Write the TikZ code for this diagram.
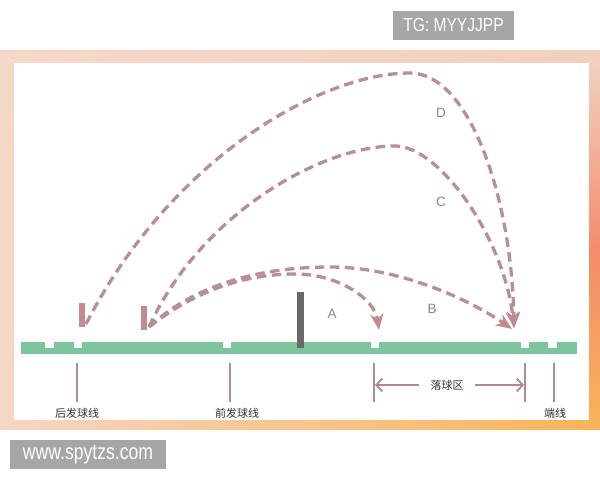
\documentclass[tikz,border=0pt]{standalone}
\usepackage{fontspec}
\setmainfont{Liberation Sans}
\newfontfamily\cjk{Noto Sans CJK SC}
\usetikzlibrary{arrows.meta,shadings}
\definecolor{traj}{HTML}{B59094}
\definecolor{tip}{HTML}{C08A8E}
\definecolor{player}{HTML}{C48A8C}
\definecolor{mark}{HTML}{B08A8E}
\definecolor{courtg}{HTML}{7DC59C}
\definecolor{netc}{HTML}{686868}
\definecolor{lbl}{HTML}{8A8A8A}
\definecolor{boxg}{HTML}{A6A6A6}
\definecolor{fUL}{HTML}{F6D8C8}
\definecolor{fUR}{HTML}{F2D0C0}
\definecolor{fLL}{HTML}{F6D6C4}
\definecolor{fLR}{HTML}{F9B25A}
\definecolor{fRM}{HTML}{F38C6C}
\definecolor{fRB}{HTML}{F9B45A}
\tikzset{
  traj/.style={draw=traj, line width=3.3pt, dash pattern=on 9.5pt off 5.5pt,
    -{Stealth[length=16pt,width=13pt,inset=5pt,color=tip]}},
  playerbar/.style={fill=player, inner sep=0pt, minimum width=6pt, minimum height=24pt},
  notch/.style={fill=white, inner sep=0pt, minimum width=8.5pt, minimum height=6pt, anchor=north},
  tick/.style={draw=mark, line width=2pt},
  cn/.style={font=\cjk\fontsize{11}{13}\selectfont, text=black!80, inner sep=0pt},
  letter/.style={font=\fontsize{13.5}{15}\selectfont, text=lbl, inner sep=0pt},
  graybox/.style={fill=boxg, text=white, inner sep=0pt},
  zonearrow/.style={draw=mark, line width=1.8pt, -{Straight Barb[length=6pt,width=13pt]}}
}
\begin{document}
\begin{tikzpicture}[x=1pt,y=-1pt]
\useasboundingbox (0,0) rectangle (600,480);
\fill[white] (0,0) rectangle (600,480);
% frame
\shade[upper left=fUL, upper right=fUR, lower left=fLL, lower right=fLR] (0,50) rectangle (600,429);
\shade[top color=fUR, bottom color=fRM] (589,63) rectangle (600,250);
\shade[top color=fRM, bottom color=fRB] (589,250) rectangle (600,429);
\shade[left color=fLL, middle color=fLL, right color=fRB] (0,420) rectangle (589,429);
\fill[white] (14,63) rectangle (589,420);
% watermark boxes
\node[graybox, minimum width=121pt, minimum height=29pt] (tg) at (453.5,25) {\scalebox{0.82}[1]{\fontsize{19}{21}\selectfont TG: MYYJJPP}};
\node[graybox, minimum width=156pt, minimum height=29pt] (www) at (88,454.5) {\scalebox{0.8}[1]{\fontsize{22}{24}\selectfont www.spytzs.com}};
% court
\node[fill=courtg, inner sep=0pt, minimum width=556pt, minimum height=12pt] (court) at (299,348) {};
\foreach \x [count=\i] in {49.5,78,227,375,525,552.5}
  \node[notch] (n\i) at (\x,342) {};
% net
\node[fill=netc, inner sep=0pt, minimum width=7pt, minimum height=56pt] (net) at (300.5,320) {};
% players
\node[playerbar] (p1) at (81.5,315) {};
\node[playerbar] (p2) at (144,318) {};
\coordinate (s1) at (86,324);
\coordinate (s2) at (149,327);
\coordinate (pD) at (410,73);
\coordinate (pC) at (395,146);
\coordinate (pB) at (330,267);
\coordinate (pA) at (295,274);
\coordinate (landD) at (514,328);
\coordinate (landB) at (512,329);
\coordinate (landA) at (379,330);
% trajectories
\draw[traj] (s1) .. controls (170,160) and (320,73) .. (pD) .. controls (470,73) and (512,200) .. (landD);
\draw[traj] (s2) .. controls (200,215) and (320,146) .. (pC) .. controls (440,146) and (505,240) .. (landD);
\draw[traj] (s2) .. controls (200,280) and (270,267) .. (pB) .. controls (400,267) and (470,300) .. (landB);
\draw[traj] (s2) .. controls (200,287) and (250,274) .. (pA) .. controls (340,274) and (375,300) .. (landA);
% letters
\node[letter] (lD) at (441,113) {D};
\node[letter] (lC) at (441,202) {C};
\node[letter] (lB) at (432,309) {B};
\node[letter] (lA) at (332,314) {A};
% ticks below
\foreach \x/\n in {77/t1,230/t2,374/t3,525/t4,554/t5} {
  \coordinate (\n a) at (\x,363);
  \coordinate (\n b) at (\x,402);
  \draw[tick] (\n a) -- (\n b);
}
% zone
\node[cn] (zone) at (447,385) {落球区};
\coordinate (zl) at (375,385);
\coordinate (zr) at (524,385);
\draw[zonearrow] ([xshift=-28pt]zone.center) -- (zl);
\draw[zonearrow] ([xshift=28pt]zone.center) -- (zr);
% labels
\node[cn] (back) at (77,413) {后发球线};
\node[cn] (front) at (237,413) {前发球线};
\node[cn] (end) at (555,413) {端线};
\end{tikzpicture}
\end{document}
